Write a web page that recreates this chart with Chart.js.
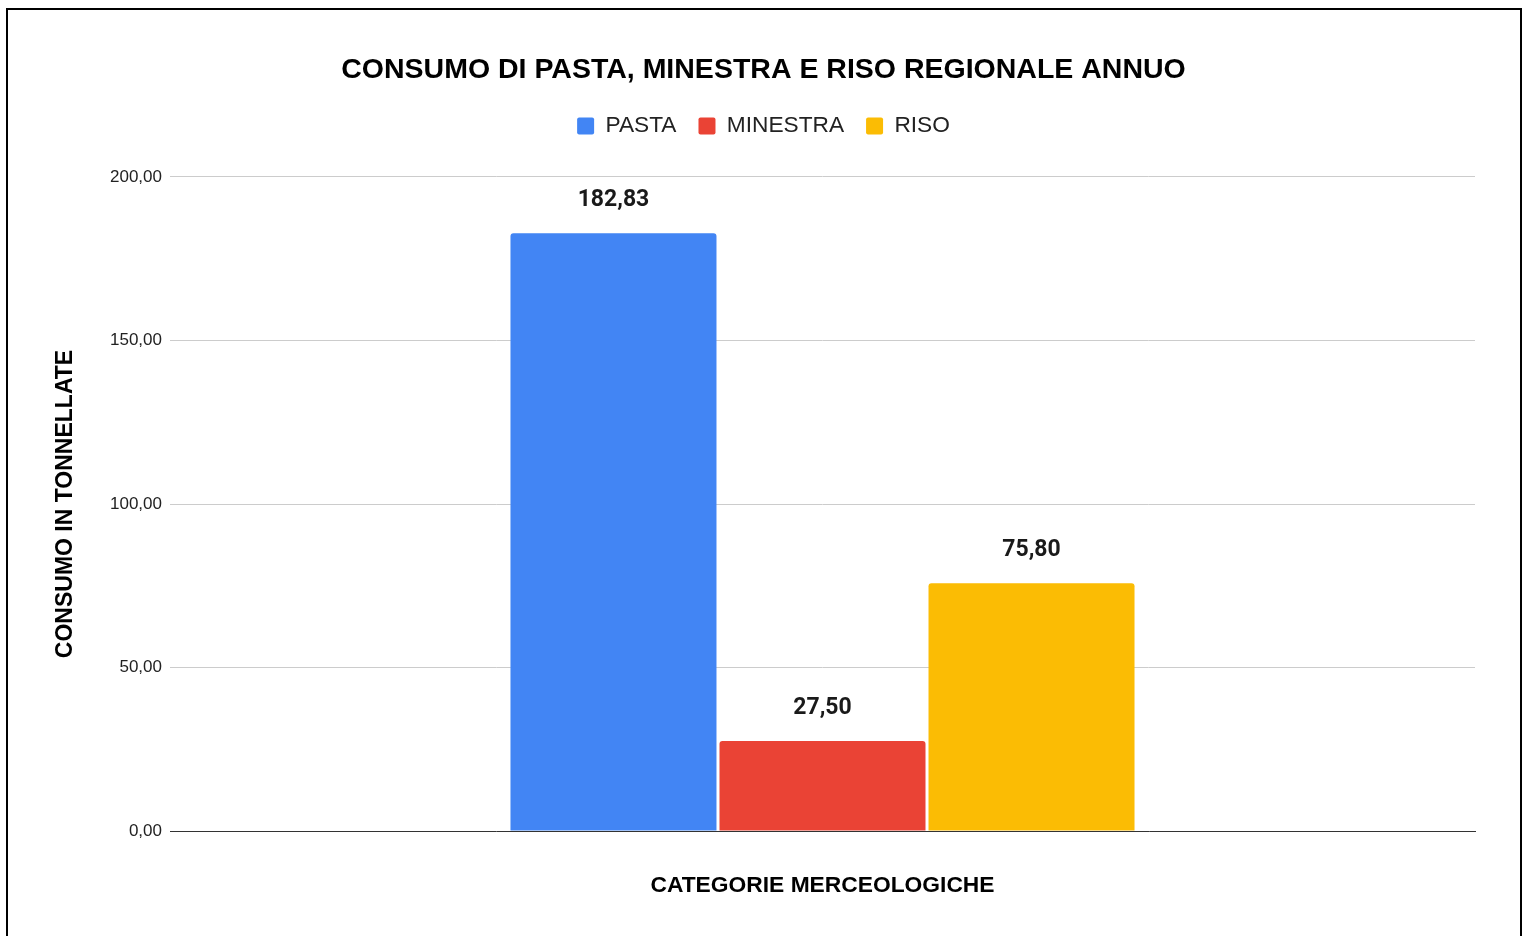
<!DOCTYPE html>
<html>
<head>
<meta charset="utf-8">
<script src="https://cdn.jsdelivr.net/npm/chart.js@4"></script>
<style>
  html, body { margin: 0; padding: 0; background: #fff; overflow: hidden; }
  #wrap { position: relative; width: 1524px; height: 936px; }
  #frame { position: absolute; left: 6px; top: 8px; width: 1512px; height: 1000px; border: 2px solid #000; pointer-events: none; }
  canvas { position: absolute; left: 0; top: 0; }
</style>
</head>
<body>
<div id="wrap">
  <canvas id="c" width="1524" height="936"></canvas>
  <div id="frame"></div>
</div>
<script>
const categories = [''];
const seriesNames = ['PASTA', 'MINESTRA', 'RISO'];
const pastaValues = [182.83];
const minestraValues = [27.50];
const risoValues = [75.80];
const yTicks = [0, 50, 100, 150, 200];
const chartTitle = 'CONSUMO DI PASTA, MINESTRA E RISO REGIONALE ANNUO';
const xTitle = 'CATEGORIE MERCEOLOGICHE';
const yTitle = 'CONSUMO IN TONNELLATE';

const colors = ['#4285F4', '#EA4335', '#FBBC04'];
const fmt = v => Number(v).toFixed(2).replace('.', ',');

const valueLabels = {
  id: 'valueLabels',
  afterDatasetsDraw(chart) {
    const ctx = chart.ctx;
    ctx.save();
    ctx.font = 'bold 23px Roboto';
    ctx.fillStyle = '#1a1a1a';
    ctx.textAlign = 'center';
    ctx.textBaseline = 'middle';
    chart.data.datasets.forEach((ds, i) => {
      chart.getDatasetMeta(i).data.forEach((bar, j) => {
        ctx.fillText(fmt(ds.data[j]), bar.x, bar.y - 33);
      });
    });
    ctx.restore();
  }
};

new Chart(document.getElementById('c'), {
  type: 'bar',
  data: {
    labels: categories,
    datasets: [
      { label: seriesNames[0], data: pastaValues, backgroundColor: colors[0] },
      { label: seriesNames[1], data: minestraValues, backgroundColor: colors[1] },
      { label: seriesNames[2], data: risoValues, backgroundColor: colors[2] }
    ]
  },
  options: {
    responsive: false,
    animation: false,
    devicePixelRatio: 1,
    layout: { padding: { left: 3, right: 0, top: 0, bottom: 0 } },
    datasets: {
      bar: {
        categoryPercentage: 0.4805,
        barPercentage: 0.9856,
        borderRadius: { topLeft: 3, topRight: 3, bottomLeft: 0, bottomRight: 0 },
        borderSkipped: false
      }
    },
    plugins: {
      title: {
        display: true,
        text: chartTitle,
        color: '#000',
        font: { family: 'Liberation Sans', size: 28.5, weight: 'bold', lineHeight: 1.2 },
        padding: { top: 53, bottom: 5.5 }
      },
      subtitle: {
        display: true,
        text: ' ',
        weight: 500,
        font: { size: 1, lineHeight: 1 },
        padding: { top: 0, bottom: 28.6 }
      },
      legend: {
        display: true,
        position: 'top',
        labels: {
          color: '#222',
          font: { family: 'Liberation Sans', size: 22.7 },
          boxWidth: 17,
          boxHeight: 17,
          padding: 22,
          useBorderRadius: true,
          borderRadius: 2
        }
      },
      tooltip: { enabled: false }
    },
    scales: {
      x: {
        grid: { display: false },
        border: { display: true, color: '#333', width: 1 },
        ticks: { display: false },
        title: {
          display: true,
          text: xTitle,
          color: '#000',
          font: { family: 'Liberation Sans', size: 22.8, weight: 'bold', lineHeight: 1.2 },
          padding: { top: 0, bottom: 36.5 }
        },
        afterFit: s => { s.height = 105; }
      },
      y: {
        min: 0,
        max: 200,
        afterBuildTicks: s => { s.ticks = yTicks.map(v => ({ value: v })); },
        grid: { color: '#cccccc', lineWidth: 1, drawTicks: false },
        border: { display: false },
        ticks: {
          padding: 8,
          color: '#222',
          font: { family: 'Liberation Sans', size: 17 },
          callback: v => fmt(v)
        },
        title: {
          display: true,
          text: yTitle,
          color: '#000',
          font: { family: 'Liberation Sans', size: 23, weight: 'bold', lineHeight: 1.2 },
          padding: { top: 49.2, bottom: 0 }
        },
        afterFit: s => { s.width = 167; }
      },
      spacer: {
        type: 'linear',
        position: 'right',
        display: true,
        grid: { display: false },
        border: { display: false },
        ticks: { display: false },
        afterFit: s => { s.width = 49; }
      }
    }
  },
  plugins: [valueLabels]
});
</script>
</body>
</html>
